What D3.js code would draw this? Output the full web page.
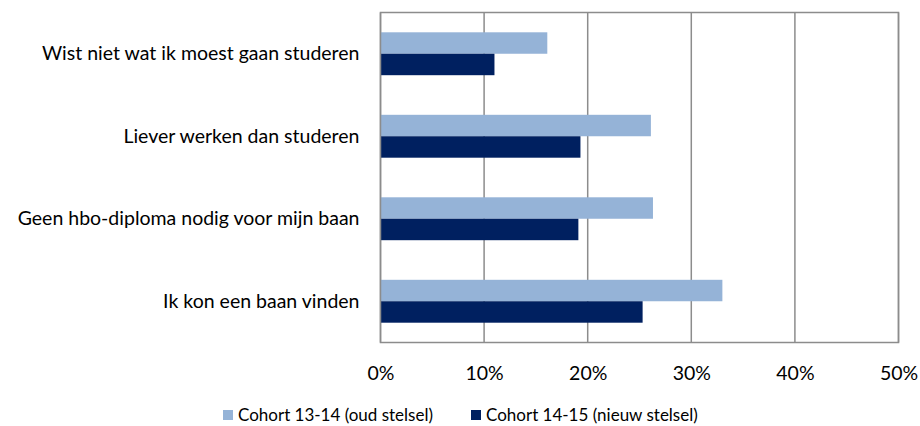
<!DOCTYPE html>
<html>
<head>
<meta charset="utf-8">
<script src="https://cdn.jsdelivr.net/npm/d3@7"></script>
<style>
    body { margin: 0; background: #fff; }
    svg { display: block; font-family: Lato, sans-serif; }
</style>
</head>
<body>
<svg id="barChart"></svg>
<script>
const categories = [
    "Wist niet wat ik moest gaan studeren",
    "Liever werken dan studeren",
    "Geen hbo-diploma nodig voor mijn baan",
    "Ik kon een baan vinden"
];
const seriesNames = ["Cohort 13-14 (oud stelsel)", "Cohort 14-15 (nieuw stelsel)"];
const cohortOud = [16.1, 26.1, 26.3, 33.0];
const cohortNieuw = [11.0, 19.3, 19.1, 25.3];
const xTicks = [0, 10, 20, 30, 40, 50];

const width = 920;
const height = 426;
const margins = { top: 12.5, right: 21.5, bottom: 83.5, left: 380.5 };
const colors = ["#95b3d7", "#002060"];

const svg = d3.select("#barChart")
    .attr("width", width)
    .attr("height", height);

const xScale = d3.scaleLinear()
    .domain([0, 50])
    .range([margins.left, width - margins.right]);

const yScale = d3.scaleBand()
    .domain(categories)
    .range([margins.top, height - margins.bottom])
    .paddingInner(0.48)
    .paddingOuter(0.24);

const subScale = d3.scaleBand()
    .domain([0, 1])
    .range([0, yScale.bandwidth()]);

// gridlines
svg.append("g")
    .selectAll("line")
    .data(xTicks)
    .join("line")
    .attr("x1", d => xScale(d))
    .attr("x2", d => xScale(d))
    .attr("y1", margins.top)
    .attr("y2", height - margins.bottom)
    .attr("stroke", "#8c8c8c")
    .attr("stroke-width", 1.5);

// bars
const series = [cohortOud, cohortNieuw];
series.forEach((values, idx) => {
    svg.append("g")
        .selectAll("rect")
        .data(values)
        .join("rect")
        .attr("x", xScale(0))
        .attr("y", (d, i) => yScale(categories[i]) + subScale(idx))
        .attr("width", d => xScale(d) - xScale(0))
        .attr("height", subScale.bandwidth())
        .attr("fill", colors[idx]);
});

// plot border
svg.append("rect")
    .attr("x", margins.left)
    .attr("y", margins.top)
    .attr("width", width - margins.right - margins.left)
    .attr("height", height - margins.bottom - margins.top)
    .attr("fill", "none")
    .attr("stroke", "#8c8c8c")
    .attr("stroke-width", 1.5);

// x axis labels
const xAxis = d3.axisBottom(xScale)
    .tickValues(xTicks)
    .tickFormat(d => d + "%")
    .tickSize(0)
    .tickPadding(24);

svg.append("g")
    .attr("transform", `translate(0, ${height - margins.bottom})`)
    .call(xAxis)
    .call(g => g.select(".domain").remove())
    .selectAll("text")
    .attr("font-family", "Lato, sans-serif")
    .attr("font-size", "19.5px")
    .attr("fill", "#000");

// category labels
const yAxis = d3.axisLeft(yScale)
    .tickSize(0)
    .tickPadding(21);

svg.append("g")
    .attr("transform", `translate(${margins.left}, 0)`)
    .call(yAxis)
    .call(g => g.select(".domain").remove())
    .selectAll("text")
    .attr("font-family", "Lato, sans-serif")
    .attr("font-size", "19.5px")
    .attr("fill", "#000");

// legend
const legendX = [223, 471];
const legend = svg.append("g")
    .selectAll("g")
    .data(seriesNames)
    .join("g")
    .attr("transform", (d, i) => `translate(${legendX[i]}, 415)`);

legend.append("rect")
    .attr("x", 0)
    .attr("y", -5)
    .attr("width", 10)
    .attr("height", 10)
    .attr("fill", (d, i) => colors[i]);

legend.append("text")
    .attr("x", 15)
    .attr("dy", "0.35em")
    .attr("font-size", "17px")
    .attr("fill", "#000")
    .text(d => d);
</script>
</body>
</html>
